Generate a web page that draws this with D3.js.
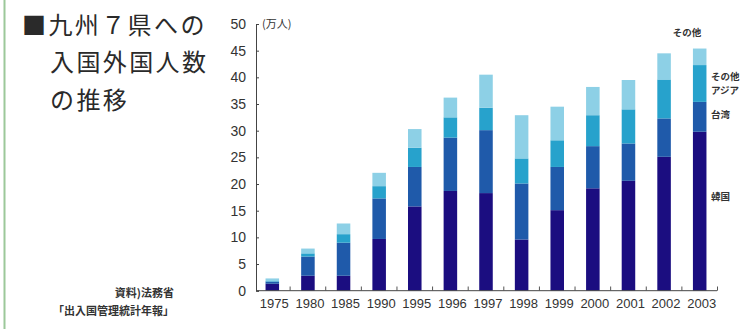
<!DOCTYPE html>
<html><head><meta charset="utf-8">
<script src="https://cdn.jsdelivr.net/npm/d3@7"></script>
<style>
html,body{margin:0;padding:0;background:#fff;}
svg{display:block;}
</style></head>
<body>
<svg id="c" width="742" height="329"></svg>
<script>
const years = ["1975","1980","1985","1990","1995","1996","1997","1998","1999","2000","2001","2002","2003"];
const korea     = [1.3, 2.8, 2.8, 9.7, 15.8, 18.7, 18.3, 9.6, 15.1, 19.2, 20.6, 25.1, 29.8];
const taiwan    = [0.4, 3.6, 6.2, 7.6, 7.4, 10.0, 11.8, 10.5, 8.1, 7.9, 7.0, 7.2, 5.6];
const otherAsia = [0.1, 0.6, 1.6, 2.3, 3.6, 3.8, 4.2, 4.7, 5.0, 5.8, 6.4, 7.3, 6.9];
const others    = [0.5, 0.9, 2.0, 2.5, 3.5, 3.7, 6.2, 8.1, 6.3, 5.3, 5.5, 4.9, 3.1];
const seriesKeys = ["韓国","台湾","その他アジア","その他"];
const yTicks = [0,5,10,15,20,25,30,35,40,45,50];
const titleLines = ["■九州７県への","入国外国人数","の推移"];
const sourceLines = ["資料)法務省","「出入国管理統計年報」"];

const colors = {"韓国":"#1b0d80","台湾":"#1f5aaa","その他アジア":"#27a2cc","その他":"#8dd0e6"};

const table = years.map((y,i)=>({year:y,"韓国":korea[i],"台湾":taiwan[i],"その他アジア":otherAsia[i],"その他":others[i]}));
const stacked = d3.stack().keys(seriesKeys)(table);

const svg = d3.select("#c");
const jp = "'Noto Sans CJK JP','Noto Sans',sans-serif";
const num = "'Liberation Sans Narrow','Liberation Sans',Arial,sans-serif";

// left green frame line
svg.append("line").attr("x1",4.5).attr("x2",4.5).attr("y1",0).attr("y2",329)
  .attr("stroke","#9cc89a").attr("stroke-width",2);

const x = d3.scaleBand().domain(years).range([254.5,717.5]).paddingInner(0.62).paddingOuter(0.31);
const y = d3.scaleLinear().domain([0,50]).range([290.7,24]);

// bars
svg.append("g").selectAll("g").data(stacked).join("g")
  .attr("fill",d=>colors[d.key])
  .selectAll("rect").data(d=>d).join("rect")
  .attr("x",d=>x(d.data.year))
  .attr("width",x.bandwidth())
  .attr("y",d=>y(d[1]))
  .attr("height",d=>y(d[0])-y(d[1]));

// y axis
const yAxis = d3.axisRight(y).tickValues(yTicks).tickSize(3).tickFormat("");
const yg = svg.append("g").attr("transform","translate(256,0)").call(yAxis);
yg.select(".domain").attr("stroke","#444");
yg.selectAll(".tick line").attr("stroke","#444");
svg.append("g").selectAll("text").data(yTicks).join("text")
  .attr("x",246).attr("y",d=>y(d)).attr("dy","0.36em")
  .attr("text-anchor","end").attr("font-family",num).attr("font-size",14)
  .attr("fill","#333").text(d=>d);

// x axis
svg.append("line").attr("x1",256).attr("x2",717).attr("y1",290.7).attr("y2",290.7).attr("stroke","#444");
const step = x.step();
svg.append("g").selectAll("line").data(years).join("line")
  .attr("x1",d=>x(d)+x.bandwidth()/2+step/2).attr("x2",d=>x(d)+x.bandwidth()/2+step/2)
  .attr("y1",290.7).attr("y2",286.5).attr("stroke","#555");
svg.append("g").selectAll("text").data(years).join("text")
  .attr("x",d=>x(d)+x.bandwidth()/2+2).attr("y",303).attr("dy","0.36em")
  .attr("text-anchor","middle").attr("font-family",num).attr("font-size",13)
  .attr("fill","#333").text(d=>d);

// unit
svg.append("text").attr("x",262).attr("y",24).attr("dy","0.36em")
  .attr("font-family",jp).attr("font-size",11).attr("fill","#333").text("(万人)");

// title
const ty = [25,62,100], tx = [22,50,50];
svg.append("g").selectAll("text").data(titleLines).join("text")
  .attr("x",(d,i)=>tx[i]).attr("y",(d,i)=>ty[i]).attr("dy","0.36em")
  .attr("font-family",jp).attr("font-size",24).attr("font-weight",400)
  .attr("letter-spacing","2.4px").attr("fill","#2a2a2a").text(d=>d);

// source
svg.append("g").selectAll("text").data(sourceLines).join("text")
  .attr("x",174).attr("y",(d,i)=>[293,311][i]).attr("dy","0.36em")
  .attr("text-anchor","end").attr("font-family",jp).attr("font-size",11).attr("font-weight",700)
  .attr("fill","#333").text(d=>d);

// series labels near last bar
const lab = svg.append("g").attr("font-family",jp).attr("font-size",9.5).attr("font-weight",700).attr("fill","#333");
lab.append("text").attr("x",687).attr("y",33).attr("dy","0.36em").attr("text-anchor","middle").text("その他");
lab.append("text").attr("x",711).attr("y",77).attr("dy","0.36em").text("その他");
lab.append("text").attr("x",711).attr("y",91).attr("dy","0.36em").text("アジア");
lab.append("text").attr("x",711).attr("y",115).attr("dy","0.36em").text("台湾");
lab.append("text").attr("x",711).attr("y",197).attr("dy","0.36em").text("韓国");
</script>
</body></html>
